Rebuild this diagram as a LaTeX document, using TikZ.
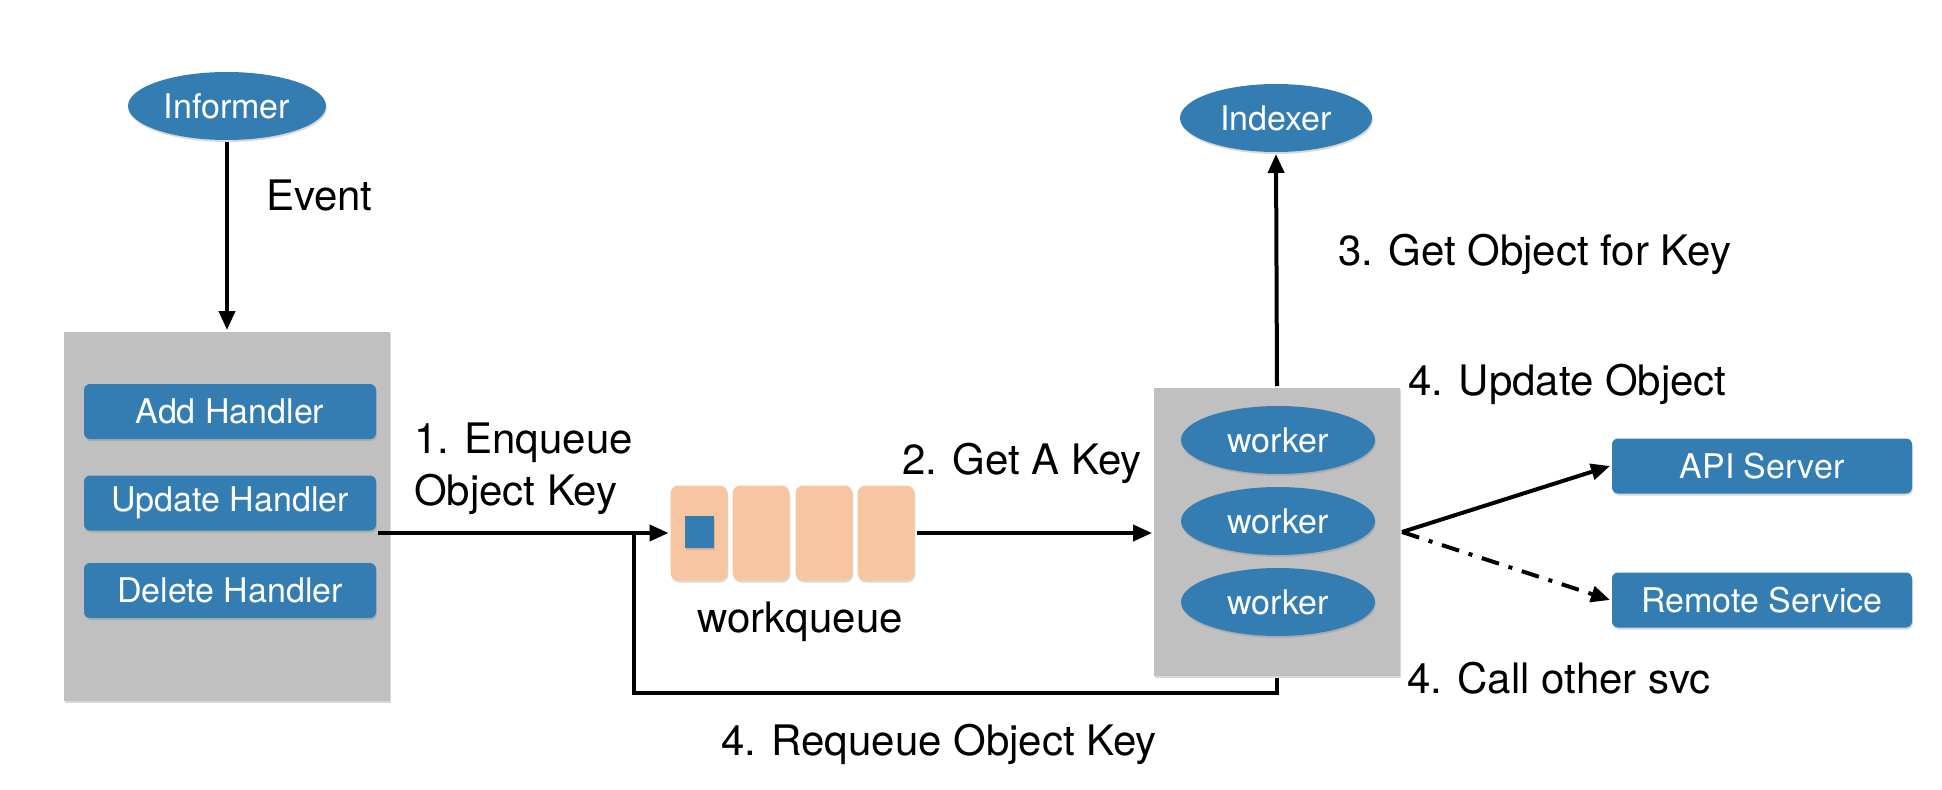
\documentclass[tikz,border=0pt]{standalone}
\usepackage{fontspec}
\setmainfont{TeX Gyre Heros}
\usetikzlibrary{arrows.meta,shapes.geometric,shadows}
\definecolor{kblue}{RGB}{52,125,178}
\definecolor{kgray}{RGB}{192,192,192}
\definecolor{kpeach}{RGB}{247,198,160}
\newcommand{\qarrow}{-{Triangle[length=9.5pt,width=8pt]}}
\tikzset{
	softshadow/.style={drop shadow={shadow xshift=0.4pt,shadow yshift=-1pt,opacity=0.3}},
	blob/.style={ellipse,fill=kblue,text=white,inner sep=0pt,minimum width=#1,minimum height=34pt,font=\fontsize{17}{20}\selectfont,softshadow},
	blob/.default=97pt,
	handler/.style={rectangle,rounded corners=3pt,fill=kblue,text=white,minimum width=146pt,minimum height=27.5pt,inner sep=0pt,font=\fontsize{17}{20}\selectfont,softshadow},
	panel/.style={rectangle,fill=kgray,inner sep=0pt,softshadow},
	cell/.style={rectangle,rounded corners=4pt,fill=kpeach,minimum width=28.5pt,minimum height=47.5pt,inner sep=0pt,softshadow},
	lbl/.style={font=\fontsize{21}{26}\selectfont,inner sep=0pt},
}
\begin{document}
\begin{tikzpicture}[x=50pt,y=50pt,line width=2pt]
					\useasboundingbox (0,0) rectangle (19.42,7.89);
					% left side
					\node[blob=99pt] (inf) at (2.27,6.83) {Informer};
					\node[panel,minimum width=163pt,minimum height=184.5pt] (hbox) at (2.27,2.725) {};
					\node[handler] (add) at (2.30,3.775) {Add Handler};
					\node[handler] (upd) at (2.30,2.86) {Update Handler};
					\node[handler] (del) at (2.30,1.985) {Delete Handler};
					\node[lbl,anchor=base west] (ev) at (2.64,5.79) {Event};
					% workqueue
					\foreach \i/\x in {1/6.99,2/7.61,3/8.24,4/8.86}
						\node[cell] (q\i) at (\x,2.56) {};
					\node[rectangle,fill=kblue,minimum width=14.5pt,minimum height=16pt,inner sep=0pt,softshadow] (key) at (6.995,2.57) {};
					\node[lbl,anchor=base] (wq) at (8.00,1.57) {workqueue};
					% workers
					\node[panel,minimum width=123pt,minimum height=144pt] (wbox) at (12.77,2.57) {};
					\node[blob] (w1) at (12.78,3.49) {worker};
					\node[blob] (w2) at (12.78,2.68) {worker};
					\node[blob] (w3) at (12.78,1.87) {worker};
					\node[blob=96pt] (idx) at (12.76,6.71) {Indexer};
					\node[handler,minimum width=150pt] (api) at (17.62,3.23) {API Server};
					\node[handler,minimum width=150pt] (rs) at (17.62,1.89) {Remote Service};
					% labels
					\node[lbl,anchor=west,align=left] (enq) at (4.12,3.205) {1. Enqueue\\Object Key};
					\node[lbl,anchor=base west] (gak) at (9.00,3.15) {2. Get A Key};
					\node[lbl,anchor=base west] (gok) at (13.36,5.24) {3. Get Object for Key};
					\node[lbl,anchor=base west] (uo) at (14.06,3.94) {4. Update Object};
					\node[lbl,anchor=base west] (cos) at (14.05,0.96) {4. Call other svc};
					\node[lbl,anchor=base west] (rqk) at (7.19,0.34) {4. Requeue Object Key};
					% connectors
					\coordinate (join) at (6.34,2.56);
					\coordinate (rq) at (6.34,0.96);
					\draw[\qarrow] (inf.south) -- (hbox.north);
					\draw[\qarrow] (upd.south east |- q1.west) -- (q1.west);
					\draw[\qarrow] (q4.east) -- (q4.east -| wbox.west);
					\draw (wbox.south) |- (rq) -- (join);
					\draw[\qarrow] (wbox.north) -- (idx.south);
					\draw[\qarrow] (wbox.east) -- (api.west);
					\draw[\qarrow,dash pattern=on 9pt off 5pt on 2pt off 5pt] (wbox.east) -- (rs.west);
				\end{tikzpicture}
\end{document}
